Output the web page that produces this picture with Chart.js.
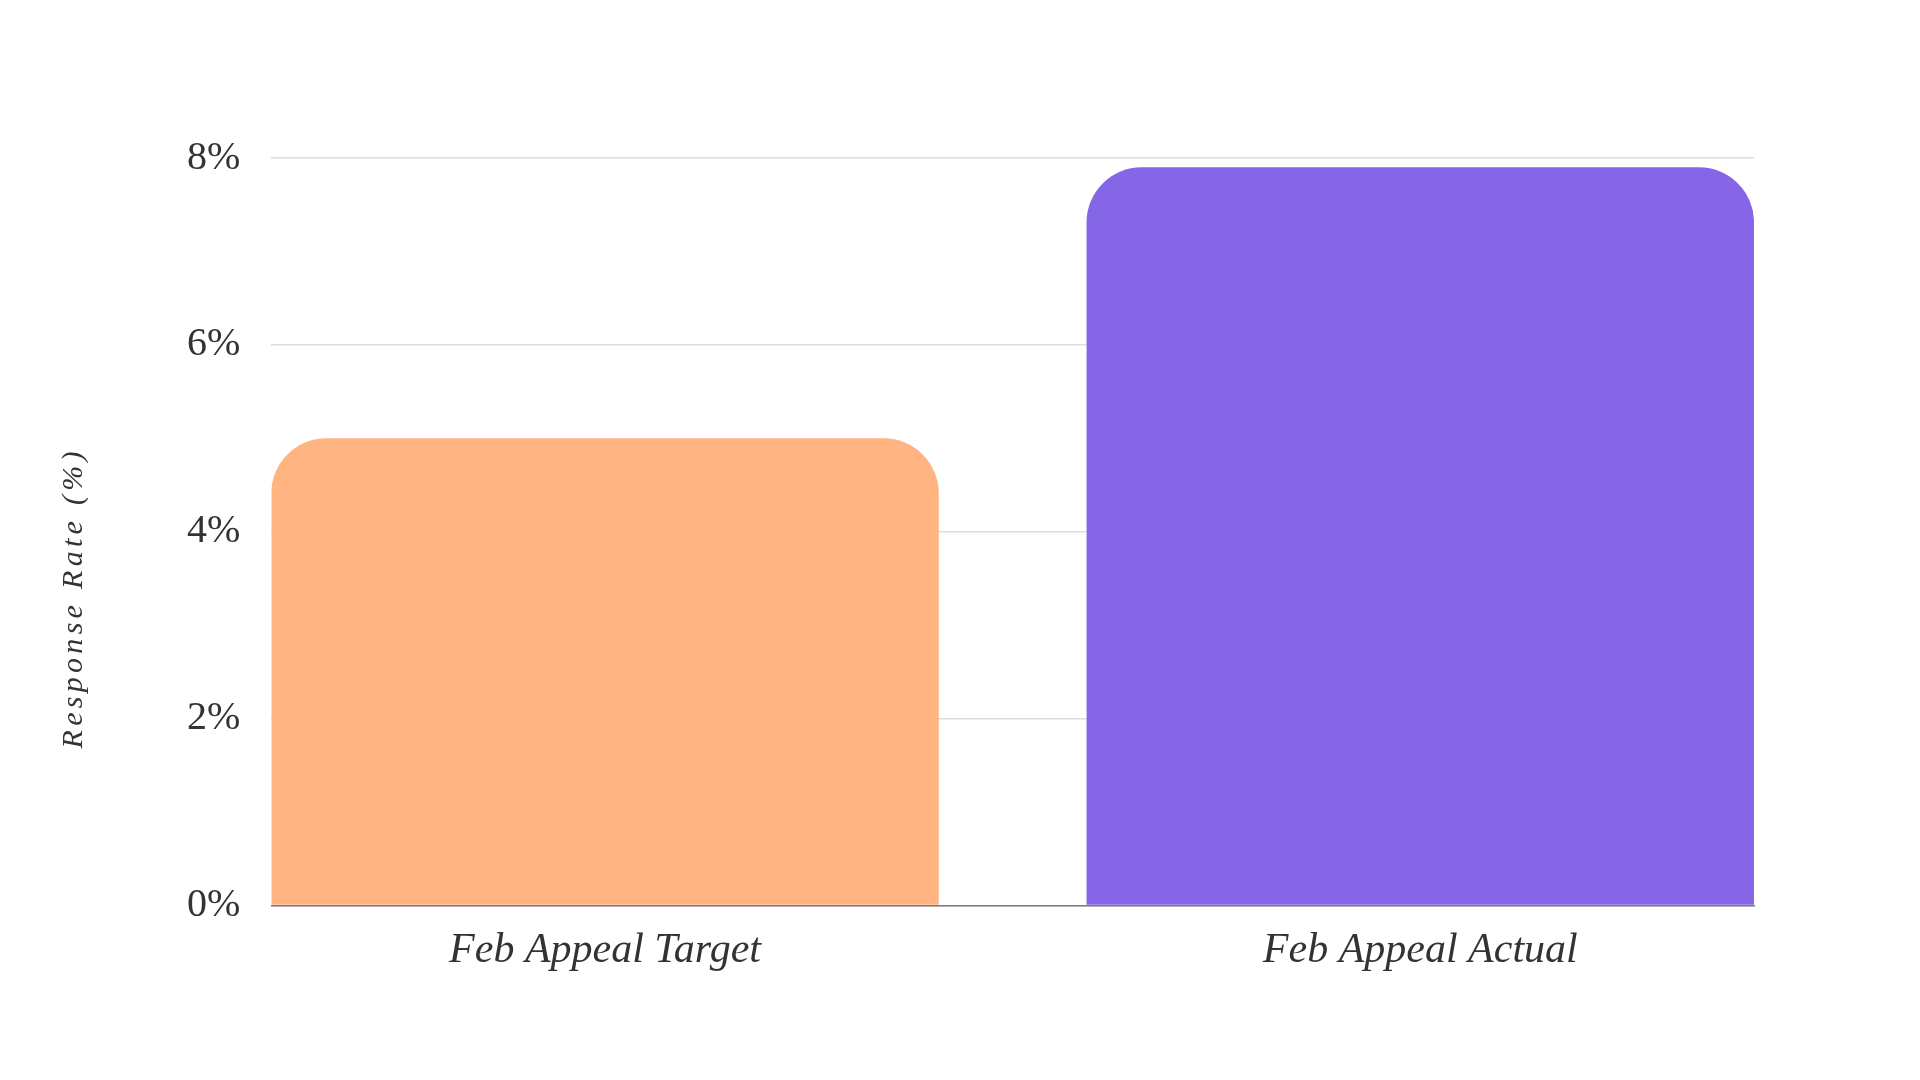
<!DOCTYPE html>
<html>
<head>
<meta charset="utf-8">
<script src="https://cdn.jsdelivr.net/npm/chart.js@4.4.1/dist/chart.umd.min.js"></script>
<style>
  html, body { margin: 0; padding: 0; background: #ffffff; }
  canvas { display: block; }
</style>
</head>
<body>
<canvas id="myChart" width="1920" height="1080"></canvas>
<script>
// data
const categories = ['Feb Appeal Target', 'Feb Appeal Actual'];
const responseRates = [5.0, 7.9];
const barColors = ['#FFB482', '#8566E6'];
const yTicks = [0, 2, 4, 6, 8];

// bars sit on a linear x scale so they can lean out to the plot edges
const points = categories.map((c, i) => ({ x: i, y: responseRates[i] }));

// the axis title in the reference is letter-spaced and sits a bit low
const spacedTitle = {
    id: 'spacedTitle',
    beforeDraw(chart) {
        const s = chart.scales.y;
        if (s && !s._spaced) {
            const orig = s.drawTitle;
            s.drawTitle = function () {
                const ctx = this.ctx;
                ctx.save();
                ctx.letterSpacing = '4.3px';
                ctx.translate(0, 66);
                orig.apply(this, arguments);
                ctx.restore();
            };
            s._spaced = true;
        }
    }
};

const myChartRef = document.getElementById('myChart').getContext('2d');

new Chart(myChartRef, {
    type: 'bar',
    data: {
        datasets: [
            {
                label: 'Response Rate (%)',
                data: points,
                backgroundColor: barColors,
                borderRadius: { topLeft: 55, topRight: 55 },
                borderSkipped: 'bottom',
                categoryPercentage: 1.0,
                barPercentage: 0.8187
            }
        ]
    },
    plugins: [spacedTitle],
    options: {
        responsive: false,
        animation: false,
        layout: {
            padding: { top: 158, right: 166, bottom: 84, left: 40 }
        },
        plugins: {
            legend: { display: false },
            tooltip: { enabled: false }
        },
        scales: {
            x: {
                type: 'linear',
                z: -1,
                offset: false,
                min: -0.4093,
                max: 1.4093,
                afterBuildTicks: (scale) => {
                    scale.ticks = categories.map((c, i) => ({ value: i }));
                },
                ticks: {
                    callback: (v) => categories[v],
                    color: '#333333',
                    padding: 20,
                    maxRotation: 0,
                    autoSkip: false,
                    font: { family: 'Liberation Serif', size: 42, style: 'italic' }
                },
                grid: { display: false, drawTicks: false },
                border: { display: true, color: '#7a7a7a', width: 1.5 }
            },
            y: {
                min: 0,
                max: 8,
                afterBuildTicks: (scale) => {
                    scale.ticks = yTicks.map(v => ({ value: v }));
                },
                ticks: {
                    callback: (v) => v + '%',
                    color: '#333333',
                    padding: 31,
                    font: { family: 'Liberation Serif', size: 40 }
                },
                grid: { color: '#dddddd', lineWidth: 1.5, drawTicks: false },
                border: { display: false },
                title: {
                    display: true,
                    text: 'Response Rate (%)',
                    color: '#333333',
                    padding: { top: 16, bottom: 64 },
                    font: { family: 'Liberation Serif', size: 30, style: 'italic' }
                }
            }
        }
    }
});
</script>
</body>
</html>
